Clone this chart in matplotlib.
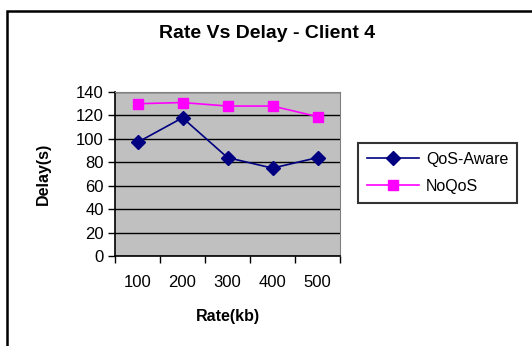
import numpy as np
import matplotlib
matplotlib.use("Agg")
import matplotlib.pyplot as plt
from matplotlib.patches import Rectangle

rates = ["100", "200", "300", "400", "500"]
qos_aware = [97, 118, 84, 75, 84]
no_qos = [130, 131, 128, 128, 119]

W, H = 532, 346
fig = plt.figure(figsize=(W / 100, H / 100), dpi=100)
plt.rcParams['font.family'] = ['Liberation Sans', 'DejaVu Sans']

# outer chart frame (right and bottom edges run off the picture)
fig.patches.append(Rectangle((7 / W, -0.05), 1.0, (H - 11) / H + 0.05,
                             transform=fig.transFigure, fill=False,
                             edgecolor='black', linewidth=1.8))

# cut-off caption above the chart, only descenders show
fig.text(124 / W, 1 + 6 / H, "Figure 11: Rate Vs Delay", ha='left', va='baseline',
         fontsize=14, fontweight='bold', family='Liberation Serif')

ax = fig.add_axes([115 / W, (H - 256) / H, 225 / W, 164 / H])
ax.set_facecolor('#C0C0C0')

x = np.arange(len(rates))
ax.plot(x, qos_aware, color='#000080', marker='D', markersize=7, linewidth=1.2,
        label='QoS-Aware')
ax.plot(x, no_qos, color='#FF00FF', marker='s', markersize=7, linewidth=1.2,
        label='NoQoS')

ax.set_xlim(-0.5, len(rates) - 0.5)
ax.set_ylim(0, 140)
ax.set_yticks(np.arange(0, 141, 20))
ax.yaxis.grid(True, color='black', linewidth=1.0)
ax.set_axisbelow(True)

ax.set_xticks(np.arange(-0.5, len(rates), 1.0))
ax.set_xticklabels([])
ax.set_xticks(x, minor=True)
ax.set_xticklabels(rates, minor=True)
ax.tick_params(axis='x', which='major', direction='out', length=5, width=1)
ax.tick_params(axis='x', which='minor', length=0, pad=14, labelsize=12)
ax.tick_params(axis='y', direction='out', length=5, width=1, labelsize=12, pad=3)

for side in ['top', 'right']:
    ax.spines[side].set_color('#808080')
for side in ['left', 'bottom']:
    ax.spines[side].set_color('black')
    ax.spines[side].set_linewidth(1.2)

ax.set_xlabel('Rate(kb)', fontsize=11.5, fontweight='bold', labelpad=13)
ax.set_ylabel('Delay(s)', fontsize=11.5, fontweight='bold', labelpad=18)

fig.text(267 / W, 1 - 34 / H, 'Rate Vs Delay - Client 4', ha='center', va='center',
         fontsize=14, fontweight='bold')

leg = ax.legend(loc='center left', bbox_to_anchor=(358 / W, 1 - 173 / H),
                bbox_transform=fig.transFigure, fontsize=11.5, frameon=True,
                fancybox=False, borderpad=0.55, handlelength=3.3, labelspacing=0.75,
                handletextpad=0.4, borderaxespad=0)
leg.get_frame().set_edgecolor('black')
leg.get_frame().set_linewidth(1.5)

fig.savefig('out.png', dpi=100)
